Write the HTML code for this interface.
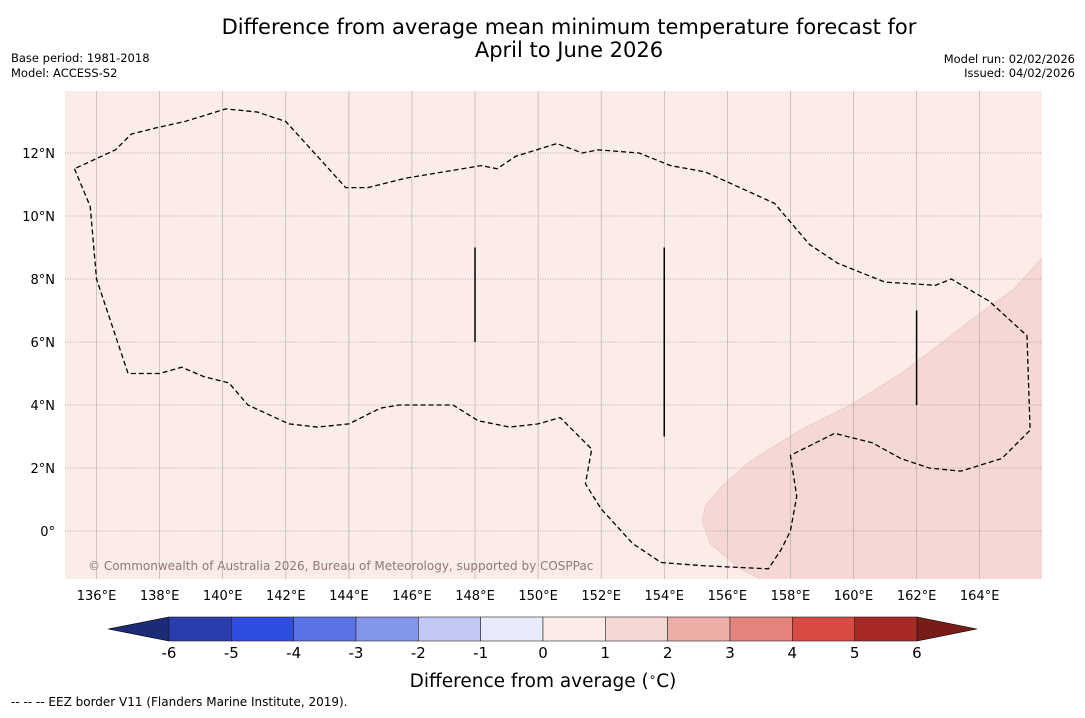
<!DOCTYPE html>
<html><head><meta charset="utf-8"><style>
body{margin:0;background:#fff;font-family:"Liberation Sans","DejaVu Sans",sans-serif;}
svg text{font-family:"DejaVu Sans","Liberation Sans",sans-serif;}
</style></head><body>
<svg id="c" width="1085" height="713" xmlns="http://www.w3.org/2000/svg">
<rect width="1085" height="713" fill="#fff"/>
<text x="569" y="34" font-size="21" text-anchor="middle">Difference from average mean minimum temperature forecast for</text>
<text x="569" y="57" font-size="21" text-anchor="middle">April to June 2026</text>
<text x="11" y="62" font-size="11.5">Base period: 1981-2018</text>
<text x="11" y="77" font-size="11.5">Model: ACCESS-S2</text>
<text x="1075" y="63" font-size="11.5" text-anchor="end">Model run: 02/02/2026</text>
<text x="1075" y="77" font-size="11.5" text-anchor="end">Issued: 04/02/2026</text>
<g id="map"></g>
<g id="cbar"></g>
<text x="543" y="687" font-size="18.5" text-anchor="middle">Difference from average (<tspan font-size="12" dy="-6">∘</tspan><tspan dy="6">C)</tspan></text>
<text x="11" y="706" font-size="12">--  --  -- EEZ border V11 (Flanders Marine Institute, 2019).</text>
</svg>
<script>
const lonTicks=[136,138,140,142,144,146,148,150,152,154,156,158,160,162,164];
const latTicks=[0,2,4,6,8,10,12];
const cbLevels=[-6,-5,-4,-3,-2,-1,0,1,2,3,4,5,6];
const cbColors=["#2a3dac","#2d4edf","#5a73e4","#8496ea","#c0c8f3","#e8ebfa","#fbebe9","#f5d7d3","#edaea8","#e5847c","#d94b42","#a82a24"];
const eezLon=[135.3,135.8,136.0,137.0,138.0,138.7,139.4,140.2,140.8,142.1,143.0,144.0,145.0,145.6,147.3,148.1,149.1,150.0,150.7,151.2,151.7,151.5,152.0,153.0,153.9,155.2,157.3,157.7,158.0,158.2,158.0,158.6,159.4,160.6,161.5,162.4,163.4,164.7,165.6,165.5,164.3,163.1,162.6,161.0,159.5,158.6,157.5,156.4,155.3,154.2,153.2,151.9,151.4,150.6,149.3,148.7,148.2,145.8,144.6,143.9,143.0,142.0,141.1,140.1,138.8,137.9,137.1,136.6,135.3];
const eezLat=[11.5,10.3,8.0,5.0,5.0,5.2,4.9,4.7,4.0,3.4,3.3,3.4,3.9,4.0,4.0,3.5,3.3,3.4,3.6,3.1,2.6,1.5,0.7,-0.4,-1.0,-1.1,-1.2,-0.6,0.0,1.1,2.4,2.7,3.1,2.8,2.3,2.0,1.9,2.3,3.2,6.2,7.3,8.0,7.8,7.9,8.5,9.1,10.4,10.9,11.4,11.6,12.0,12.1,12.0,12.3,11.9,11.5,11.6,11.2,10.9,10.9,11.9,13.0,13.3,13.4,13.0,12.8,12.6,12.1,11.5];
const warmLon=[166,165.1,164.0,162.7,161.5,159.9,158.3,156.7,155.8,155.3,155.2,155.45,156.4,157.0,166];
const warmLat=[8.7,7.7,6.9,5.9,5.0,4.0,3.2,2.2,1.4,0.8,0.3,-0.4,-1.2,-1.5,-1.5];
const segLon=[148,154,162], segLat0=[9,9,7], segLat1=[6,3,4];
const X=l=>65+(l-135)*31.54, Y=l=>531-l*31.5;
const NS="http://www.w3.org/2000/svg";
function mk(p,t,a){const e=document.createElementNS(NS,t);for(const k in a)e.setAttribute(k,a[k]);p.appendChild(e);return e;}
const m=document.getElementById('map');
const cp0=mk(m,'clipPath',{id:'mc'});mk(cp0,'rect',{x:65,y:91,width:977,height:488});
mk(m,'rect',{x:65,y:91,width:977,height:488,fill:"#fbebe9"});
let pts=warmLon.map((l,i)=>X(l)+','+Y(warmLat[i])).join(' ');
const wp=mk(m,'polygon',{points:pts,fill:"#f5d8d4",stroke:"#e8c4c0","stroke-width":0.6,"clip-path":"url(#mc)"});


lonTicks.forEach(l=>{
 const g=mk(m,'line',{x1:X(l),x2:X(l),y1:91,y2:579,stroke:"#999","stroke-width":0.6,opacity:0.8});
 
 const t=mk(m,'text',{x:X(l),y:600,"font-size":13,"text-anchor":"middle"});t.textContent=l+'°E';
 
});
latTicks.forEach(l=>{
 const g=mk(m,'line',{x1:65,x2:1042,y1:Y(l),y2:Y(l),stroke:"#777","stroke-width":0.6,"stroke-dasharray":"1,1.5"});
 
 const t=mk(m,'text',{x:55,y:Y(l)+5,"font-size":13,"text-anchor":"end"});t.textContent=l===0?'0°':l+'°N';
 
});
pts=eezLon.map((l,i)=>X(l)+','+Y(eezLat[i])).join(' ');
const ez=mk(m,'polyline',{points:pts,fill:"none",stroke:"#000","stroke-width":1.3,"stroke-dasharray":"5,3"});

segLon.forEach((l,i)=>{
 const s=mk(m,'line',{x1:X(l),x2:X(l),y1:Y(segLat0[i]),y2:Y(segLat1[i]),stroke:"#000","stroke-width":1.5});
 
});
const cp=mk(m,'text',{x:88,y:570,"font-size":12,fill:"#8a7a78"});cp.textContent='© Commonwealth of Australia 2026, Bureau of Meteorology, supported by COSPPac';

const cb=document.getElementById('cbar');
const CX=v=>169+(v+6)*62.33, cy0=617, cy1=641;
mk(cb,'polygon',{points:`${CX(-6)},${cy0} ${CX(-6)},${cy1} 108,629`,fill:"#1c2a78",stroke:"#000","stroke-width":0.6});
mk(cb,'polygon',{points:`${CX(6)},${cy0} ${CX(6)},${cy1} 977,629`,fill:"#781c18",stroke:"#000","stroke-width":0.6});
cbColors.forEach((c,i)=>{
 const r=mk(cb,'rect',{x:CX(cbLevels[i]),y:cy0,width:CX(cbLevels[i+1])-CX(cbLevels[i]),height:cy1-cy0,fill:c,stroke:"#222","stroke-width":0.6});
 
});
cbLevels.forEach(v=>{
 const t=mk(cb,'text',{x:CX(v),y:658,"font-size":15,"text-anchor":"middle"});t.textContent=v;
 
});
</script>
</body></html>
